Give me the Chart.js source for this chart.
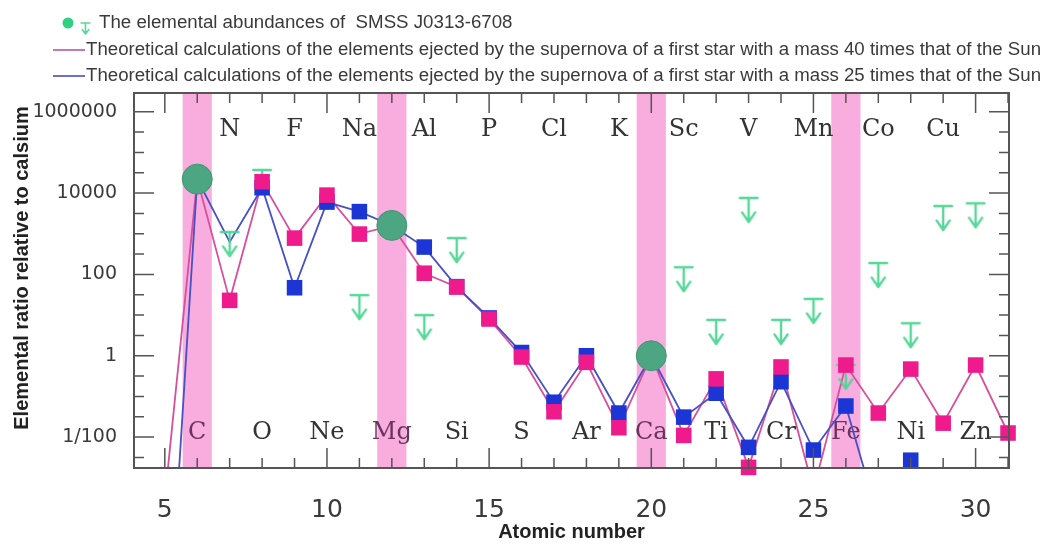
<!DOCTYPE html>
<html>
<head>
<meta charset="utf-8">
<script src="https://cdn.jsdelivr.net/npm/chart.js@4.4.0/dist/chart.umd.min.js"></script>
<style>
  html, body { margin: 0; padding: 0; background: #fff; }
</style>
</head>
<body>
<canvas id="abundance-chart" width="1047" height="548"></canvas>
<script>
(function () {
    'use strict';

    // ---- data ----
    var model40Z = [5, 6, 7, 8, 9, 10, 11, 12, 13, 14, 15, 16, 17, 18, 19, 20, 21, 22, 23, 24, 25, 26, 27, 28, 29, 30, 31];
    var model40 = [3e-4, 2.2e4, 23, 1.9e4, 780, 8900, 980, 1600, 107, 49, 8, 0.93, 0.042, 0.69, 0.017, 1,
                   0.011, 0.27, 0.0018, 0.53, 5e-4, 0.59, 0.039, 0.47, 0.022, 0.59, 0.0126];

    var model25Z = [5, 6, 7, 8, 9, 10, 11, 12, 13, 14, 15, 16, 17, 18, 19, 20, 21, 22, 23, 24, 25, 26, 27, 28];
    var model25 = [4e-9, 2.2e4, 630, 1.35e4, 47, 6000, 3500, 1600, 470, 50, 8.5, 1.2, 0.072, 1.0, 0.039, 1,
                   0.031, 0.12, 0.0056, 0.23, 0.0048, 0.058, 1e-4, 0.0027];
    var model25NoMarkerZ = [7];   // vertex drawn without a square in the figure

    var detectedZ = [6, 12, 20];
    var detected = [2.2e4, 1600, 1];

    var limitZ = [7, 8, 11, 13, 14, 21, 22, 23, 24, 25, 26, 27, 28, 29, 30];
    var limits = [1100, 3.7e4, 31, 10, 780, 150, 7.6, 7600, 7.6, 25, 0.6, 190, 6.3, 4800, 5600];

    var topSymbolZ = [7, 9, 11, 13, 15, 17, 19, 21, 23, 25, 27, 29];
    var topSymbols = ['N', 'F', 'Na', 'Al', 'P', 'Cl', 'K', 'Sc', 'V', 'Mn', 'Co', 'Cu'];
    var bottomSymbolZ = [6, 8, 10, 12, 14, 16, 18, 20, 22, 24, 26, 28, 30];
    var bottomSymbols = ['C', 'O', 'Ne', 'Mg', 'Si', 'S', 'Ar', 'Ca', 'Ti', 'Cr', 'Fe', 'Ni', 'Zn'];

    var bandZ = [6, 12, 20, 26];

    var xTickValues = [5, 10, 15, 20, 25, 30];
    var yTickValues = [1e-2, 1, 100, 1e4, 1e6];
    var yTickLabels = ['1/100', '1', '100', '10000', '1000000'];

    var legendLabels = [
        'The elemental abundances of  SMSS J0313-6708',
        'Theoretical calculations of the elements ejected by the supernova of a first star with a mass 40 times that of the Sun',
        'Theoretical calculations of the elements ejected by the supernova of a first star with a mass 25 times that of the Sun'
    ];
    var xTitle = 'Atomic number';
    var yTitle = 'Elemental ratio relative to calsium';

    var PINK = '#ef1a8c', BLUE = '#1b36d4', GREEN = '#4ba681', LIMIT = 'rgba(78,214,148,0.95)';

    function pairs(xs, ys) {
        return xs.map(function (x, i) { return { x: x, y: ys[i] }; });
    }

    // upper-limit marker: bar at the value, arrow pointing down
    function makeArrow(w, len, lw) {
        var c = document.createElement('canvas');
        c.width = w; c.height = len * 2 + 4;
        var g = c.getContext('2d'), cy = len + 2, cx = w / 2;
        g.strokeStyle = LIMIT; g.lineWidth = lw; g.lineCap = 'round'; g.lineJoin = 'round';
        g.beginPath();
        g.moveTo(cx - w * 0.4, cy); g.lineTo(cx + w * 0.4, cy);
        g.moveTo(cx, cy); g.lineTo(cx, cy + len);
        g.moveTo(cx - w * 0.3, cy + len * 0.6); g.lineTo(cx, cy + len); g.lineTo(cx + w * 0.3, cy + len * 0.6);
        g.stroke();
        return c;
    }
    var arrow = makeArrow(22, 24, 2.4);

    //====[ decorations ]=======================================

    var decor = {
        id: 'decor',
        beforeDatasetsDraw: function (chart) {
            var ctx = chart.ctx, xs = chart.scales.x, ys = chart.scales.y, a = chart.chartArea;
            ctx.save();
            ctx.fillStyle = 'rgba(243,118,200,0.6)';
            bandZ.forEach(function (z) {
                var l = xs.getPixelForValue(z - 0.45), r = xs.getPixelForValue(z + 0.45);
                ctx.fillRect(l, a.top, r - l, a.bottom - a.top);
            });

            ctx.font = "24px 'DejaVu Serif', serif";
            ctx.fillStyle = '#333';
            ctx.textAlign = 'center';
            ctx.textBaseline = 'middle';
            var yTop = ys.getPixelForValue(Math.pow(10, 5.55));
            var yBot = ys.getPixelForValue(Math.pow(10, -1.9));
            topSymbols.forEach(function (s, i) { ctx.fillText(s, xs.getPixelForValue(topSymbolZ[i]), yTop); });
            bottomSymbols.forEach(function (s, i) {
                ctx.fillStyle = bandZ.indexOf(bottomSymbolZ[i]) >= 0 ? '#6a3460' : '#333';
                ctx.fillText(s, xs.getPixelForValue(bottomSymbolZ[i]), yBot);
            });
            ctx.restore();
        },
        afterDraw: function (chart) {
            var ctx = chart.ctx, xs = chart.scales.x, ys = chart.scales.y, a = chart.chartArea;
            ctx.save();
            // frame + inward ticks
            ctx.strokeStyle = '#555';
            ctx.lineWidth = 2;
            ctx.strokeRect(a.left, a.top, a.right - a.left, a.bottom - a.top);
            ctx.lineWidth = 1.5;
            ctx.beginPath();
            for (var z = 5; z <= 31; z++) {
                var px = xs.getPixelForValue(z), len = z % 5 === 0 ? 20 : 10;
                ctx.moveTo(px, a.bottom); ctx.lineTo(px, a.bottom - len);
                ctx.moveTo(px, a.top); ctx.lineTo(px, a.top + len);
            }
            for (var k = -5; k <= 12; k++) {
                var py = ys.getPixelForValue(Math.pow(10, k / 2));
                if (py < a.top || py > a.bottom) continue;
                var l2 = k % 4 === 0 ? 20 : 10;
                ctx.moveTo(a.left, py); ctx.lineTo(a.left + l2, py);
                ctx.moveTo(a.right, py); ctx.lineTo(a.right - l2, py);
            }
            ctx.stroke();

            // y title
            ctx.fillStyle = '#222';
            ctx.font = "bold 20px 'Liberation Sans', Arial, sans-serif";
            ctx.textAlign = 'center';
            ctx.textBaseline = 'middle';
            ctx.translate(22, 268);
            ctx.rotate(-Math.PI / 2);
            ctx.fillText(yTitle, 0, 0, 332);
            ctx.setTransform(1, 0, 0, 1, 0, 0);

            // legend
            ctx.font = "18.7px 'Liberation Sans', Arial, sans-serif";
            ctx.textAlign = 'left';
            ctx.fillStyle = '#2fd080';
            ctx.beginPath(); ctx.arc(68, 23, 5.5, 0, Math.PI * 2); ctx.fill();
            ctx.drawImage(makeArrow(11, 11, 1.6), 80, 23 - 13);
            ctx.fillStyle = '#3a3a3a';
            ctx.fillText(legendLabels[0], 99, 23, 420);

            ctx.lineWidth = 2;
            ctx.strokeStyle = '#c878b0';
            ctx.beginPath(); ctx.moveTo(53, 50); ctx.lineTo(85, 50); ctx.stroke();
            ctx.fillText(legendLabels[1], 86, 50, 955);
            ctx.strokeStyle = '#6d6fd0';
            ctx.beginPath(); ctx.moveTo(53, 76); ctx.lineTo(85, 76); ctx.stroke();
            ctx.fillText(legendLabels[2], 86, 76, 955);
            ctx.restore();
        }
    };

    new Chart(document.getElementById('abundance-chart'), {
        type: 'line',
        data: {
            datasets: [{
                label: '40 Msun line',
                data: pairs(model40Z, model40),
                borderColor: '#d64f9c',
                borderWidth: 1.8,
                pointRadius: 0,
                order: 7
            }, {
                label: '25 Msun line',
                data: pairs(model25Z, model25),
                borderColor: '#4750c6',
                borderWidth: 1.8,
                pointRadius: 0,
                order: 6
            }, {
                label: 'upper limits',
                data: pairs(limitZ, limits),
                showLine: false,
                pointStyle: arrow,
                pointRadius: 10,
                clip: 30,
                order: 5
            }, {
                label: '25 Msun',
                data: pairs(model25Z, model25),
                showLine: false,
                pointStyle: 'rect',
                pointRadius: function (c) {
                    return model25NoMarkerZ.indexOf(model25Z[c.dataIndex]) >= 0 ? 0 : 11;
                },
                pointBorderWidth: 0,
                pointBackgroundColor: BLUE,
                pointBorderColor: BLUE,
                clip: 14,
                order: 4
            }, {
                label: '40 Msun',
                data: pairs(model40Z, model40),
                showLine: false,
                pointStyle: 'rect',
                pointRadius: 11,
                pointBorderWidth: 0,
                pointBackgroundColor: PINK,
                pointBorderColor: PINK,
                clip: 14,
                order: 3
            }, {
                label: 'SMSS J0313-6708',
                data: pairs(detectedZ, detected),
                showLine: false,
                pointStyle: 'circle',
                pointRadius: 15,
                pointBorderWidth: 1,
                pointBackgroundColor: GREEN,
                pointBorderColor: '#3f9673',
                order: 1
            }]
        },
        options: {
            responsive: false,
            animation: false,
            events: [],
            layout: { padding: { top: 93, right: 38, left: 0, bottom: 0 } },
            plugins: { legend: { display: false }, tooltip: { enabled: false } },
            scales: {
                x: {
                    type: 'linear',
                    min: 4.05,
                    max: 31.03,
                    grid: { display: false },
                    border: { display: false },
                    afterBuildTicks: function (s) { s.ticks = xTickValues.map(function (v) { return { value: v }; }); },
                    afterFit: function (s) { s.height = 80; },
                    ticks: {
                        autoSkip: false,
                        maxRotation: 0,
                        padding: 19,
                        color: '#3a3a3a',
                        font: { family: "'DejaVu Sans', sans-serif", size: 25 }
                    },
                    title: {
                        display: true,
                        text: xTitle,
                        color: '#222',
                        font: { family: "'Liberation Sans', Arial, sans-serif", size: 20, weight: 'bold' },
                        padding: { top: 0, bottom: 4 }
                    }
                },
                y: {
                    type: 'logarithmic',
                    min: Math.pow(10, -2.76),
                    max: Math.pow(10, 6.46),
                    grid: { display: false },
                    border: { display: false },
                    afterBuildTicks: function (s) { s.ticks = yTickValues.map(function (v) { return { value: v }; }); },
                    afterFit: function (s) { s.width = 134; },
                    ticks: {
                        autoSkip: false,
                        padding: 9,
                        color: '#3a3a3a',
                        font: { family: "'DejaVu Sans', sans-serif", size: 19 },
                        callback: function (v) {
                            var i = yTickValues.indexOf(v);
                            return i < 0 ? '' : yTickLabels[i];
                        }
                    }
                }
            }
        },
        plugins: [decor]
    });
})();
</script>
</body>
</html>
